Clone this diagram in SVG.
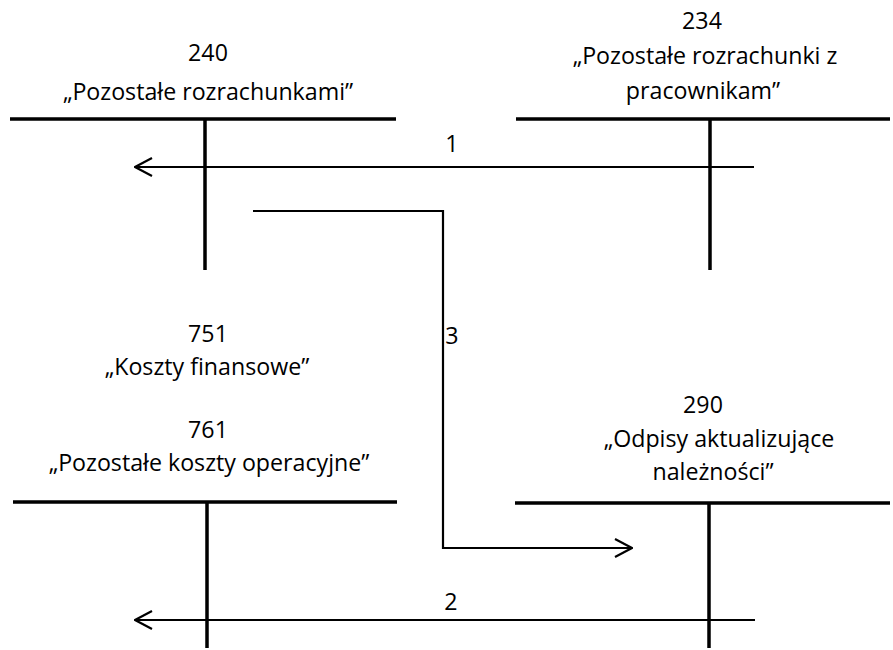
<svg xmlns="http://www.w3.org/2000/svg" width="893" height="650" viewBox="0 0 893 650">
  <style>
    .lbl { font-family: "Open Sans", "Liberation Sans", sans-serif; font-size: 23.2px; fill: #000; text-anchor: middle; }
    .acct { stroke: #000; stroke-width: 3.5; fill: none; }
    .flow { stroke: #000; stroke-width: 2.2; fill: none; }
  </style>
  <defs>
    <marker id="open" viewBox="0 0 20 20" refX="19" refY="10" markerWidth="20" markerHeight="20" markerUnits="userSpaceOnUse" orient="auto">
      <path d="M2,1 L19,10 L2,19" fill="none" stroke="#000" stroke-width="2.2"/>
    </marker>
  </defs>

  <!-- account 240 -->
  <g id="acc240">
    <text class="lbl" x="208" y="61">240</text>
    <text class="lbl" x="208" y="100">„Pozostałe rozrachunkami”</text>
    <path class="acct" d="M10,119 H396 M205,119 V270"/>
  </g>

  <!-- account 234 -->
  <g id="acc234">
    <text class="lbl" x="702" y="29">234</text>
    <text class="lbl" x="705" y="64">„Pozostałe rozrachunki z</text>
    <text class="lbl" x="703" y="99">pracownikam”</text>
    <path class="acct" d="M516,119 H890 M710,119 V270"/>
  </g>

  <!-- accounts 751 / 761 -->
  <g id="acc751-761">
    <text class="lbl" x="208" y="342">751</text>
    <text class="lbl" x="207" y="375">„Koszty finansowe”</text>
    <text class="lbl" x="208" y="438">761</text>
    <text class="lbl" x="209" y="471">„Pozostałe koszty operacyjne”</text>
    <path class="acct" d="M13,502 H397 M207,502 V648"/>
  </g>

  <!-- account 290 -->
  <g id="acc290">
    <text class="lbl" x="703" y="413">290</text>
    <text class="lbl" x="719" y="447">„Odpisy aktualizujące</text>
    <text class="lbl" x="713" y="480">należności”</text>
    <path class="acct" d="M515,503 H890 M709,503 V648"/>
  </g>

  <!-- postings -->
  <g id="connectors">
    <path class="flow" d="M754,167 H135" marker-end="url(#open)"/>
    <text class="lbl" x="452" y="152">1</text>
    <path class="flow" d="M253,211 H443 V548 H632" marker-end="url(#open)"/>
    <text class="lbl" x="452" y="344">3</text>
    <path class="flow" d="M755,620 H135" marker-end="url(#open)"/>
    <text class="lbl" x="451" y="610">2</text>
  </g>
</svg>
